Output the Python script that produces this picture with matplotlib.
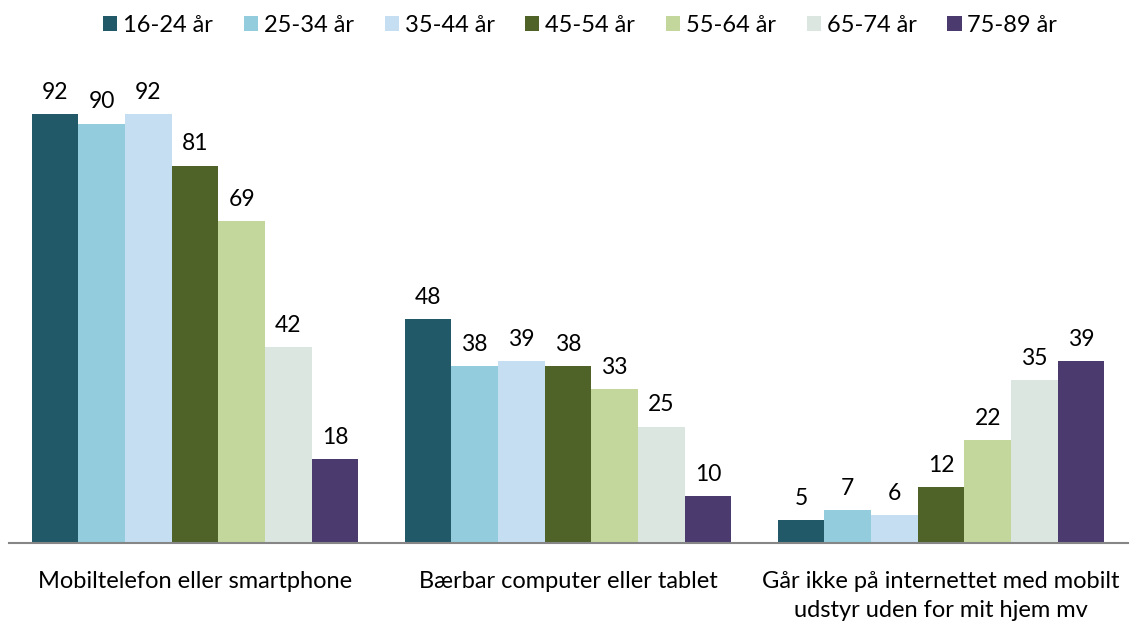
import matplotlib
matplotlib.use("Agg")
import matplotlib.pyplot as plt
import numpy as np

plt.rcParams["font.family"] = ["Lato", "DejaVu Sans"]

categories = [
    "Mobiltelefon eller smartphone",
    "Bærbar computer eller tablet",
    "Går ikke på internettet med mobilt\nudstyr uden for mit hjem mv",
]
age_groups = ["16-24 år", "25-34 år", "35-44 år", "45-54 år", "55-64 år", "65-74 år", "75-89 år"]
values = [
    [92, 48, 5],
    [90, 38, 7],
    [92, 39, 6],
    [81, 38, 12],
    [69, 33, 22],
    [42, 25, 35],
    [18, 10, 39],
]
colors = ["#215968", "#93CDDD", "#C6DEF1", "#4F6228", "#C3D69B", "#DCE6E0", "#4A3A6E"]

fig = plt.figure(figsize=(11.31, 6.21), dpi=100)
ax = fig.add_axes([8.5 / 1131, 78 / 621, 1119 / 1131, 466 / 621])

n = len(age_groups)
width = 1.0 / (n + 1)
x = np.arange(len(categories))
for i, (grp, vals, col) in enumerate(zip(age_groups, values, colors)):
    pos = x - 0.5 + width * (i + 1)
    bars = ax.bar(pos, vals, width=width, color=col, label=grp)
    for b, v in zip(bars, vals):
        ax.annotate(str(v), (b.get_x() + b.get_width() / 2, v), xytext=(0, 8),
                    textcoords="offset points", ha="center", va="bottom", fontsize=16.5)

ax.set_xlim(-0.5, len(categories) - 0.5)
ax.set_ylim(0, 100)
ax.set_yticks([])
ax.set_xticks(x)
ax.set_xticklabels(categories, fontsize=17, linespacing=1.5)
ax.tick_params(axis="x", length=0, pad=20)
for s in ["top", "right", "left"]:
    ax.spines[s].set_visible(False)
ax.spines["bottom"].set_color("#868686")
ax.spines["bottom"].set_linewidth(1.5)

fig.legend(loc="upper center", bbox_to_anchor=(0.513, 1.01), ncol=n, frameon=False,
           fontsize=17, handlelength=0.6, handleheight=0.6, handletextpad=0.25,
           columnspacing=1.3)

fig.savefig("out.png", dpi=100)
